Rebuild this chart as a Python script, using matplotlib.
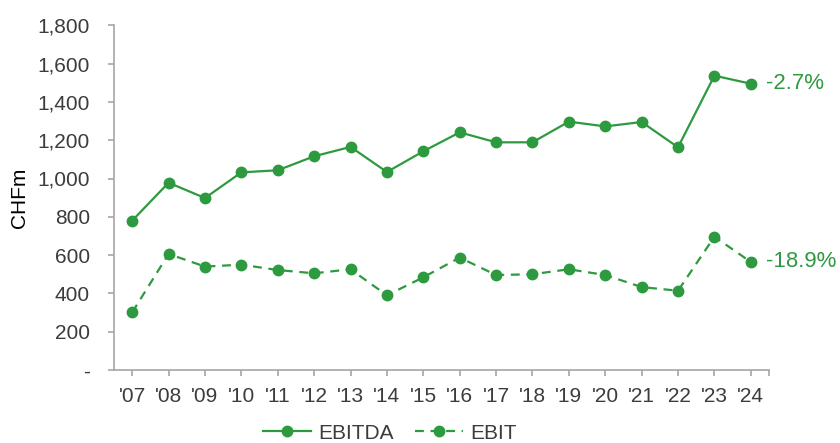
import matplotlib.pyplot as plt
from matplotlib.ticker import FuncFormatter

plt.rcParams['font.family'] = ['Liberation Sans', 'DejaVu Sans']

# data (CHFm)
years = ["'07", "'08", "'09", "'10", "'11", "'12", "'13", "'14", "'15",
         "'16", "'17", "'18", "'19", "'20", "'21", "'22", "'23", "'24"]
ebitda = [780, 978, 898, 1032, 1043, 1116, 1165, 1034, 1142,
          1241, 1189, 1189, 1297, 1272, 1295, 1163, 1537, 1495]
ebit = [301, 606, 540, 550, 522, 505, 526, 390, 484,
        587, 496, 500, 526, 496, 433, 414, 696, 564]
ebitda_chg = '-2.7%'
ebit_chg = '-18.9%'

green = '#2E9A3F'
grey_text = '#3C3C3C'
grey_axis = '#A6A6A6'

fig = plt.figure(figsize=(8.4, 4.43), dpi=100)
ax = fig.add_axes([114 / 840, 1 - 370 / 443, (769 - 114) / 840, (370 - 25.3) / 443])

x = list(range(len(years)))
ax.plot(x, ebitda, color=green, lw=1.6, marker='o', ms=7.5, label='EBITDA')
ax.plot(x, ebit, color=green, lw=1.6, marker='o', ms=7.5,
        linestyle=(0, (4, 3)), label='EBIT')

# end-of-line change labels
ax.annotate(ebitda_chg, (x[-1], ebitda[-1]), xytext=(11, 0), textcoords='offset points',
            va='center', ha='left', color=green, fontsize=16, annotation_clip=False)
ax.annotate(ebit_chg, (x[-1], ebit[-1]), xytext=(11, 0), textcoords='offset points',
            va='center', ha='left', color=green, fontsize=16, annotation_clip=False)

ax.set_xlim(-0.5, len(years) - 0.5)
ax.set_ylim(0, 1800)
ax.set_xticks(x)
ax.set_xticklabels(years)
ax.set_xticks([len(years) - 0.5], minor=True)
ax.set_yticks(range(0, 1801, 200))
ax.yaxis.set_major_formatter(FuncFormatter(lambda v, p: '-' if v == 0 else '{:,.0f}'.format(v)))

for s in ['top', 'right']:
    ax.spines[s].set_visible(False)
for s in ['left', 'bottom']:
    ax.spines[s].set_color(grey_axis)
    ax.spines[s].set_linewidth(1.2)

ax.tick_params(axis='y', which='both', direction='out', length=4.2, width=1.2,
               color=grey_axis, labelsize=15, labelcolor=grey_text, pad=13)
ax.tick_params(axis='x', which='both', direction='out', length=4, width=1.2,
               color=grey_axis, labelsize=15, labelcolor=grey_text, pad=8)

fig.text(20 / 840, 1 - 197.5 / 443, 'CHFm', rotation=90, ha='center', va='center',
         fontsize=15, color='black')

leg = ax.legend(loc='center', bbox_to_anchor=(0.464, 0.022), bbox_transform=fig.transFigure,
                ncol=2, frameon=False, fontsize=15, handlelength=2.3, handletextpad=0.35,
                columnspacing=1.05, borderpad=0.1)
for t in leg.get_texts():
    t.set_color(grey_text)

fig.savefig('out.png', dpi=100)
